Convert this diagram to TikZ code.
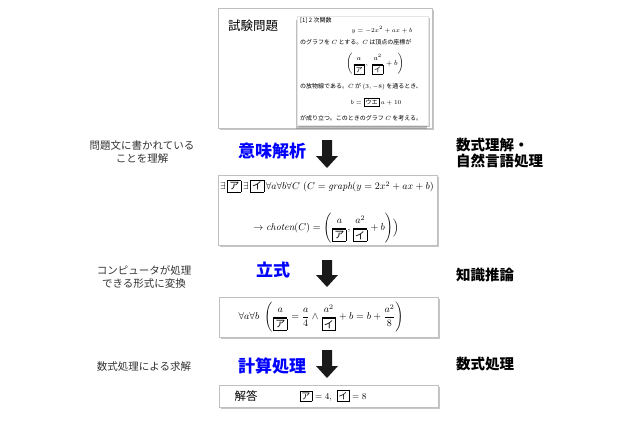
\documentclass[tikz,border=0pt]{standalone}
\usepackage{amsmath}
\usepackage{fontspec}
\usetikzlibrary{shadows}
\newfontfamily\jp{Noto Sans CJK JP}
\newcommand{\kb}[1]{\mbox{\setlength{\fboxsep}{1.6pt}\setlength{\fboxrule}{0.35pt}\fbox{\jp #1}}}

\begin{document}
\begin{tikzpicture}[x=1pt, y=-1pt, line join=round, line cap=round,
    panel/.style={draw=black!25, fill=white, inner sep=0pt,
      drop shadow={shadow xshift=2pt, shadow yshift=-2pt, opacity=0.45}},
    stage/.style={font=\jp\bfseries\fontsize{17}{17}\selectfont, text=blue, inner sep=0pt},
    note/.style={font=\jp\fontsize{10.5}{12.5}\selectfont, align=center, text=black!80, inner sep=0pt},
    field/.style={font=\jp\bfseries\fontsize{14.5}{16.5}\selectfont, align=left, anchor=west, inner sep=0pt},
    prob/.style={font=\jp\fontsize{6}{7}\selectfont, inner sep=0pt}]
    \useasboundingbox (0,0) rectangle (640,426);
    
    % boxes
    \node[panel, minimum width=214, minimum height=120] (exam) at (325,68) {};
    \node[panel, draw=black!10, minimum width=131, minimum height=109,
      drop shadow={shadow xshift=-1pt, shadow yshift=-4pt, opacity=0.5}] (sheet) at (362.5,70.5) {};
    \node[panel, minimum width=219, minimum height=70] (logic) at (327.5,210) {};
    \node[panel, minimum width=219, minimum height=40] (eqn) at (328.5,317) {};
    \node[panel, minimum width=219, minimum height=22] (answer) at (328.5,396) {};
    
    % problem sheet
    \node[font=\jp\fontsize{12.5}{14}\selectfont] (examlabel) at (253,26) {試験問題};
    \node[prob, anchor=west] (p1) at (300,20) {[1] 2 次関数};
    \node[prob] (p2) at (382,30) {$y=-2x^2+ax+b$};
    \node[prob, anchor=west] (p3) at (300,42) {のグラフを $C$ とする。$C$ は頂点の座標が};
    \node[prob, font=\jp\fontsize{7}{8}\selectfont] (p4) at (375,64)
      {$\left(\dfrac{a}{\kb{ア}},\ \dfrac{a^2}{\kb{イ}}+b\right)$};
    \node[prob, anchor=west] (p5) at (300,87) {の放物線である。$C$ が $(3,-8)$ を通るとき、};
    \node[prob] (p6) at (376,102) {$b=\kb{ウエ}\,a+10$};
    \node[prob, anchor=west] (p7) at (300,118) {が成り立つ。このときのグラフ $C$ を考える。};
    
    % formulas
    \node (f1) at (327,186)
      {$\exists\,\kb{ア}\,\exists\,\kb{イ}\,\forall a\forall b\forall C\ (C=\mathit{graph}(y=2x^2+ax+b)$};
    \node (f2) at (326,228)
      {$\to\mathit{choten}(C)=\left(\dfrac{a}{\kb{ア}},\dfrac{a^2}{\kb{イ}}+b\right)\Bigr)$};
    \node (f3) at (321,317)
      {$\forall a\forall b\ \left(\dfrac{a}{\kb{ア}}=\dfrac{a}{4}\wedge\dfrac{a^2}{\kb{イ}}+b=b+\dfrac{a^2}{8}\right)$};
    \node[font=\jp\fontsize{11.5}{13}\selectfont] (anslabel) at (246,396) {解答};
    \node[font=\fontsize{9}{11}\selectfont] (ans) at (333,396) {$\kb{ア}=4,\ \kb{イ}=8$};
    
    % arrows
    \foreach \t/\b in {140/168, 260/287, 350/378}
      \fill[black!90] (322,\t) -- (332,\t) -- (332,\b-12) -- (338,\b-12) -- (327,\b)
        -- (316,\b-12) -- (322,\b-12) -- cycle;
    
    % labels
    \node[stage] (s1) at (272,151) {意味解析};
    \node[stage] (s2) at (273,270) {立式};
    \node[stage] (s3) at (272,366) {計算処理};
    \node[note] (n1) at (142,152) {問題文に書かれている\\ことを理解};
    \node[note] (n2) at (144,277) {コンピュータが処理\\できる形式に変換};
    \node[note] (n3) at (144,367) {数式処理による求解};
    \node[field] (d1) at (456,153) {数式理解・\\自然言語処理};
    \node[field] (d2) at (456,275) {知識推論};
    \node[field] (d3) at (456,364) {数式処理};
\end{tikzpicture}
\end{document}
